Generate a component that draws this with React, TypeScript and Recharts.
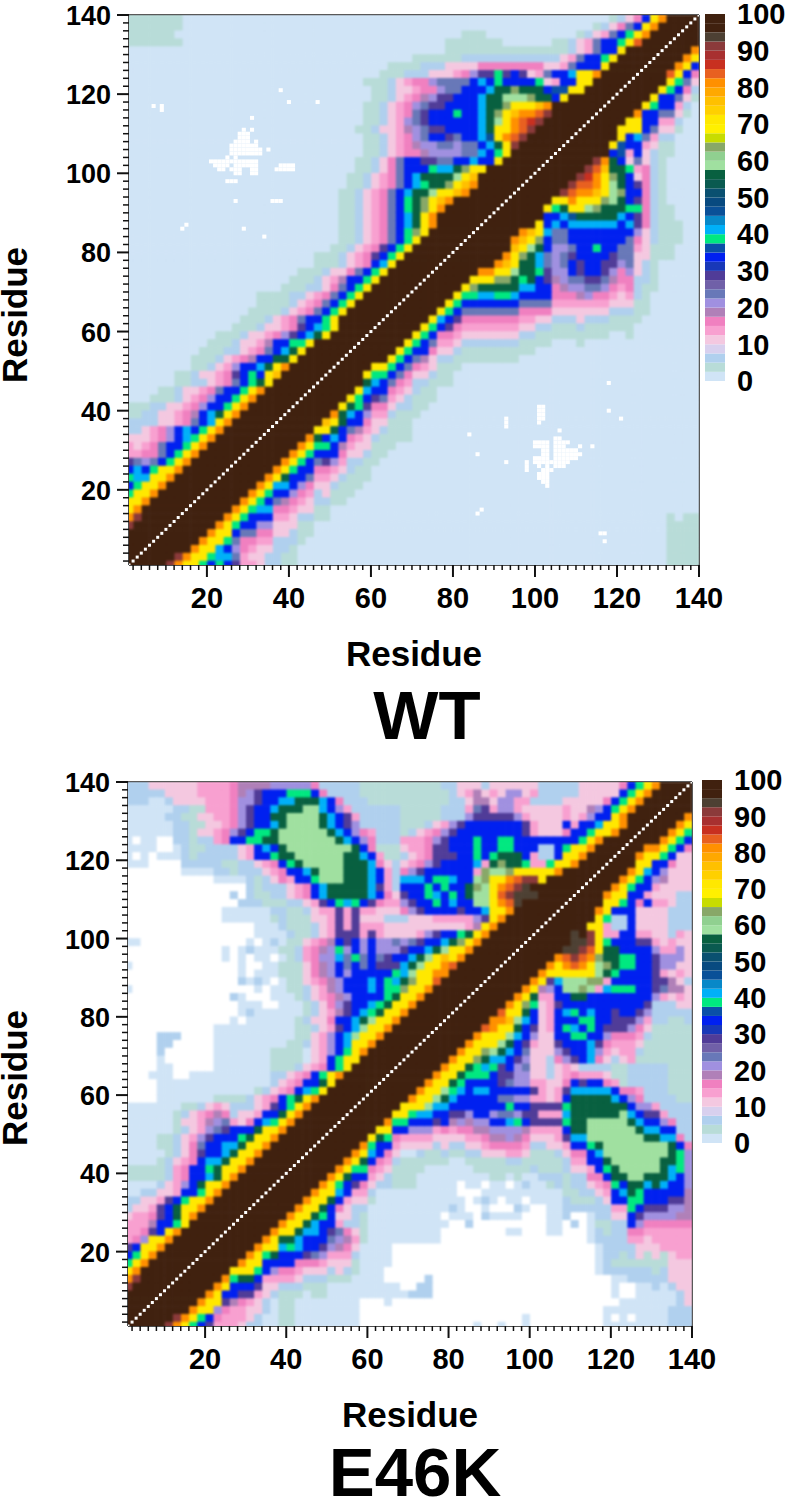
import { Bar, BarChart, Label, ReferenceLine, Scatter, ScatterChart, XAxis, YAxis } from 'recharts'

// colour bar, bottom to top, every band is 2.5 %
const BAR_COLORS = [
  '#d0e4f6', '#b8dcd8', '#b0d0ee', '#d8d0ee', '#f4c8e0', '#f8a0d0', '#f080c0', '#b080b8', '#a090e0', '#6878b8',
  '#7060a8', '#503c98', '#1838b8', '#0020f0', '#0a50a8', '#00e880', '#00b0f8', '#0888c8', '#0a5098', '#084a80',
  '#0a5070', '#0a5a50', '#086040', '#a0e0a0', '#90d090', '#88a868', '#c8dc00', '#fff000', '#ffe800', '#ffd000',
  '#ffc000', '#ffa800', '#ff9000', '#e86020', '#c83020', '#a83030', '#8b3a3a', '#4d4033', '#40210f', '#40210f',
]
const BAR_TICKS = [0, 10, 20, 30, 40, 50, 60, 70, 80, 90, 100]
const AXIS_TICKS = Array.from({ length: 70 }, (_, i) => (i + 1) * 2)
const RESIDUES = Array.from({ length: 140 }, (_, i) => i + 1)

// contact percentage behind each letter used in the rows below
const LEVELS: Record<string, number> = {
  w: -1, a: 1, b: 3, c: 6, d: 11, e: 14, f: 16, g: 19, h: 21, i: 24, j: 29, k: 34, l: 36, m: 39, n: 41, o: 44, p: 46,
  q: 56, r: 59, s: 64, t: 66, u: 71, v: 76, x: 81, y: 84, z: 86, A: 91, B: 94, C: 97,
}

// Contact maps are symmetric, so only one half is listed. One row per odd residue y (139, 137 ... 1),
// runs of "letter + number of 2-residue cells", from the diagonal out to the left. Anything left over is background.
const WT_ROWS = [
  'C4x1u1k1f1d1c1b1a52b7', 'C4x1u1k1i1f1d1c1b1a50b7', 'C4x1u1m1k1i1e1d1c1b1a11b3a35b7', 'C4y1u1m1k2i1e1d1c1b2a6b7a32b7',
  'C5u1k2i1e1d1c1b15', 'C5u1m1k2i1e1d1c12b6', 'C5u1k3i1e1d2f8d4c3b4', 'C5x1u2n1k2i1e1d1j1k1j1m1j2h1f1e1d3c3b3',
  'C5u2k2e1d1m1k4m1k1n1k1i4h1f2e1d1c1b3', 'C5u2l2k1q3s1q2n1k3i2h1f2e1d2c1b2', 'C6u1k1q2s1r3q2n1k3j2h1g1f1e1d1c1b2',
  'C7x1v1u3s1q2n1k4j2i1h1f1e1d1c1b2', 'C6A1y1x2v1u1s1q1n1k2m1k3j1i1f1e1d1c1b2', 'C6A1z1y1x1u1r1q1n1k6j1i1h1e1d1c1b2',
  'C6A1y1x1u2q1n1k4j2i1h1g1e1d2c1b2', 'C6A1y1x1u1p1n1k2i1j1k2i1h1f1e1d1c1b2', 'C6A1u1q1n1k1i2h1i2h2g1f1e1d1c1b2',
  'C6u1m1k1n1i2h4g1f2e1d1c1b2', 'C6u1k2n1k2i2j2k2i1f1d1c1b2', 'C7u2s1q1n2m1k3i1f1d1c1b2',
  'C7v1u1r1q4n1k1i1f1e1d1c1b2', 'C6x1v1u1s1q2m1n1k1i1f1e1d1c1b2', 'C6x1v1u2r1q2n1k1i1f1e1d1c1b2',
  'C7x1v1u1s1q1m1k1i1f1e1d1c1b2', 'C7x1u1s1q1m1k1i1f1e1d1c1b2', 'C7x1u1q1n1k1i1f1e1d1c1b2',
  'C6x1u1q1n1k1i1f1e1d1c1b2', 'C6u1s1m1k1i1f1e1d1c1b2', 'C6u1m1k1i1f1e1d1c1b2', 'C6u1m1k1j1f1e1d1c1b2',
  'C6u1m1k1j1f1e1d1c1b3', 'C6u1n1k1f1e1d1c1b3', 'C6u1m1k1i1f1d2c1b3', 'C6u1m1k2g1e1d1c1b3',
  'C6u1m1k1i1f1d1c2b3', 'C6u1m1k1i1f1e1d1c2b4', 'C6u1m1k1i1f1e1d1c1b4', 'C6u1m1k1i1f1e1d1c1b4',
  'C6u1m1k2i1f1e1d1c1b3', 'C5u1m1n1k1j1f1e1d2c1b3', 'C5u1q1n1k1j1h1f1e1d2c1b3', 'C6u1m2k2g1e1d2c1b3',
  'C6u1q1n1k1i1f1e1d1c2b3', 'C6u1q2k2g1f1e1d1c1b3', 'C6x1u1q1n1k2h1e1d1c1b2', 'C6v1u1k1m1k1j1f1e1d2c1b2',
  'C6u1q1m1k1i1f1e1d1c2b2', 'C6x1u1m1k2i1f1e1d2c1b2', 'C6x1u1m1k2h1f1e1d1c1b3', 'C6x1u1m1k2h1f1e1d2c2b3',
  'C6x1u1q1n1k1g1f1e1d2c2b2', 'C6x1u1n1k1i1f1e1d2c4', 'C6x1u1m1k1n1k1h1f1e1d1c2', 'C6x1u1m1n1k1h1f1e1d3',
  'C6x1u1m1k2i1f1e1d1e1', 'C6x1u1m1k1i1f2e2', 'C6x1u1m1k1i1h1i1j1', 'C6x1u2m1k1n1k1', 'C6x1u2n2m1', 'C6x1u2m1k1',
  'C6x1u2m1', 'C6x1u2', 'C6x1u1', 'C5A1x1', 'C5A1', 'C5', 'C5', 'C5', 'C5', 'C5',
]

const E46K_ROWS = [
  'C4x1u1m1k1f1d5c5d6c1d3c2b10c5f1h5g4f1e4d6c3', 'C4x1u1m1k1d5c5e1d1h2d1e1d1g1e1d1c1b11c4f1k1m3k3j1h1g1f1e4d4c5',
  'C4x1u1m1k1f1d5c4e2h2d1g2d1c2b10c3f1k1n1q3n2k2j1h2f1e3d4c1a2c3',
  'C4x1u1m1k1h1g1d2e1d5e1h2e1j1i1e1c3b5c6e1h1k1n1r2q3n1k2j1h1f1e3b2c2a6',
  'C4x1u1k2h1e1d1e1d4e1h1j5h1c3b5c5e1j1k1n1q1r4q2k2j1h1f1e2d2b2c2a5',
  'C3x1u2n1k2e1k1d3e1j1k7j1h1e1d1c1b3c5h1j1k1n1q1r4q1n1k2j1h1f1e1d2b2c2a6',
  'C3x1u2m1k2f1d3e1j1k8j1h1f1e1d1c1b1c3e1f1h1k1n1q1r6q1m2k1j1h1f1e1d2b1c2a6',
  'C4x1u1m1k8m2k2m1k3j1h1f1e3c3f1h1k1n1q1r7q2m2k2f1e1c2b1c2w2a2w1a1',
  'C4x1u2m1k1c2k3m2k2m1k3j2f1e2d1b3f1k1q1r8q1k1n1k1e1d1c4b2c1a1w2a4',
  'C4x1u2k1c2e1k1q3m1k1m1k2j3f1e1d1c1b2e1k1n1q2r6q2m1k2e1d1c5b1c1a3w1a1w1a1',
  'C4x1u2m1e2m1q2s1q1e1n1k4j1h1f1e1d1c1d1f1n1q3r5q1m1k1f1e1d1c2b2c5w4a3',
  'C5x1u5s1r2s1e1k6j1h1f1c1e1k1n1q3r3q1n1k2f1e1d1c3b1c2a4w7',
  'C6u1A2y1x1u2s1r1k2n1m2k1n3c1e1k1n1q3r3m1k2e1f1d1c1b1c1a4w11',
  'C7B1A1y1x1u1r1s1q1k2m1k1m1k3c1e1j1n1q5n1k1f1e1d1c3b1c1w15',
  'C5B3A1y1u1r2q1k1m1k1n1m1k2j1d1f1k1n1q5n1k1f1e1d1c2b2c1w1c1w13',
  'C6B1y1x1u1r2k2n1k1m1k2j1h1e2f1j1k1m1n1m1k1j1e1d1c2b3c3w14',
  'C6x1u2n1k2j1k4j1h1f1d3e2j1e1j1e2d1c1b2c2a6w12',
  'C6x1u1j1h1e5d3c3d3j1e1j1e1d2b3c1b1a6w12',
  'C6x1u1g1e1d10e3j1e1j1e1d1c1b3c1a3w16',
  'C6x1u1q1m1k2j1h1e1d4e1j1e1j3e1d1c1b2c1a4w16',
  'C6x1u1s1q1n1k2j1i1h1i1h2k1h1k1j1k1g1f1e1d1b2a1c1a1w1a1w13',
  'C6x1u2r1q1n1k2j1h3k1h1k1h1m1h1g1f1e1c1b2a3c1a1w1a1w12',
  'C6x1u1v1u1r1q1n1k2j1i1k1i1m1i1n1h2f1e1c1b1a1w1a2w1a1w1a1w12',
  'C6y1x1u2r1q1n1j3k1i1k1i1k1h1g1f1d1b3a2w2a1w13',
  'C6x2u2r1n1m1k5h1k1h1g1f1d1b3a3w1a1w14',
  'C6y1u2s1q1n1m1k1n1k3h1g1f1e1d1b2a1w1a1c1a1c1w14',
  'C6x1u2s1m2k1n1k3h1g1e1d1c1b2a2w1a1w15',
  'C6x1u2q1m1k4h1g1f1e1d1c1b1a3w3a1c1w13',
  'C6x1u2q1m1n1k2j1h1f1d1c1b1a3w2a3w14',
  'C6x1u2q1m1n1k1j1g1e1d1c1b1a6c1a1w14',
  'C6x1u2r1q1n1k2f1d2c1b1a6w1a1w14',
  'C6x1u2r1n1k1j1e1d1c1b2a10w11',
  'C6x1u2r1n1k1h1e1d1b2a10w4c3w4',
  'C6x1u2n1k1h1e1d1c1b2a9w5c2w4',
  'C6x1u1m1k1h1e1d1a1b4a7w6c1w4',
  'C6u2m1k1e1d1a1b4a7w6a1w4',
  'C6u1m1k1f1e1d1c1b3a7w5a2w4',
  'C6x1u1m1k1f1e1d1c2a10w2a3w3',
  'C6u1q1k2f1e1d1c1a14w4',
  'C6u1m1n1k1f1e1d1c1b1a12w4',
  'C6x1u1q1m1k1f1e1d1c1b4a7w4',
  'C6x1u1m1k1j1e1d1c3d1e1d1c1b2a7',
  'C6x1u1q1k2e1d2c1f1g1f1e1d1c1b1a6',
  'C6x1u1m1n1k1f1d1e1i1h1g1e1d2b1a6',
  'C6x1u2q1k3j1i1h1e1d1c1b1a6',
  'C6x1u2q1m1k3j1h1e1d1c1b2a4',
  'C6x1u2q1n2k2i1f1d1c1b2a4',
  'C6x1u2q1n1k2j1f1d1c1b1a5',
  'C6x1u2q1n2k1f1e1d1c1b1a4',
  'C6x1u2q1m1k2f1e1c1b5',
  'C6x1u1q1n1k2f1e1c1b5',
  'C6x1u2q1k1h1e1d1c1a4',
  'C6x1u1m1k2e1d2c2a2',
  'C6x1u2m1k1j1e1d2c2',
  'C6x1u2q1k1j1e1d2c1',
  'C6x1u1q1k1j1f1e2d1',
  'C6u1m1k2g1e3',
  'C6x1u1k1j1f1e2',
  'C6x1u2h1f1e1',
  'C6x1u2k1j1',
  'C6x1u1m1k1',
  'C6x1u1m1',
  'C6x1u1',
  'C5A1x1',
  'C5A1', 'C5', 'C5', 'C5', 'C5', 'C5',
]

// empty WT cells, one residue wide: [y, first x, last x]
const WT_GAPS = [
  [121, 38, 38], [118, 40, 40], [118, 47, 47], [117, 7, 7], [116, 9, 9], [117, 9, 9], [114, 31, 31], [111, 29, 29], [111, 31, 31],
  [110, 28, 30], [109, 28, 30], [108, 27, 30], [108, 32, 32], [107, 26, 32], [106, 26, 33], [106, 35, 35], [105, 26, 33],
  [104, 25, 25], [104, 27, 27], [103, 21, 32], [102, 22, 25], [102, 27, 32], [102, 38, 41], [101, 23, 24], [101, 26, 28],
  [101, 31, 32], [101, 37, 41], [100, 27, 28], [100, 31, 32], [98, 25, 27], [93, 27, 27], [93, 36, 38], [87, 15, 15],
  [86, 14, 14], [86, 29, 29], [84, 34, 34],
]

const FONT = '"Liberation Sans", Arial, sans-serif'

function colorOf(value: number) {
  if (value < 0) return '#ffffff'
  return BAR_COLORS[Math.min(39, Math.floor(value / 2.5))]
}

function expandRows(rows: string[]) {
  const cells: { x: number; y: number; value: number }[] = []
  rows.forEach((row, i) => {
    const y = 139 - i * 2
    const letters: string[] = []
    for (const m of row.matchAll(/([a-zA-Z])(\d+)/g)) {
      for (let n = 0; n < Number(m[2]); n++) letters.push(m[1])
    }
    for (let x = y, k = 0; x >= 1; x -= 2, k++) {
      const value = LEVELS[letters[k] ?? 'a']
      cells.push({ x, y, value })
      if (x !== y) cells.push({ x: y, y: x, value })
    }
  })
  return cells
}

function expandGaps(gaps: number[][]) {
  const cells: { x: number; y: number }[] = []
  gaps.forEach(([y, a, b]) => {
    for (let x = a; x <= b; x++) {
      cells.push({ x, y })
      cells.push({ x: y, y: x })
    }
  })
  return cells
}

const WT_CELLS = expandRows(WT_ROWS)
const E46K_CELLS = expandRows(E46K_ROWS)
const WT_GAP_CELLS = expandGaps(WT_GAPS)
const DIAGONAL = RESIDUES.map((r) => ({ x: r, y: r }))

const barRow: Record<string, number | string> = { band: 'scale' }
BAR_COLORS.forEach((_, i) => {
  barRow['l' + i] = 2.5
})

function XTick({ x, y, payload }: any) {
  const major = payload.value % 20 === 0
  return (
    <g>
      <line x1={x} y1={y} x2={x} y2={y + (major ? 12 : 5)} stroke="#111" strokeWidth={major ? 2 : 1.5} />
      {major && (
        <text x={x} y={y + 43} textAnchor="middle" fontFamily={FONT} fontWeight="bold" fontSize={29} fill="#000">
          {payload.value}
        </text>
      )}
    </g>
  )
}

function YTick({ x, y, payload }: any) {
  const major = payload.value % 20 === 0
  return (
    <g>
      <line x1={x - (major ? 12 : 6)} y1={y} x2={x} y2={y} stroke="#111" strokeWidth={major ? 2 : 1.5} />
      {major && (
        <text x={x - 18} y={y + 10} textAnchor="end" fontFamily={FONT} fontWeight="bold" fontSize={27} fill="#000">
          {payload.value}
        </text>
      )}
    </g>
  )
}

const DiagonalMark = ({ cx, cy }: any) => <rect x={cx - 1.5} y={cy - 1.5} width={3} height={3} fill="#ffffff" />

interface MapProps {
  cells: { x: number; y: number; value: number }[]
  gaps?: { x: number; y: number }[]
  top: number
  plotLeft: number
  plotRight: number
  plotTop: number
  plotBottom: number
  labelDy: number
}

function ContactMap({ cells, gaps, top, plotLeft, plotRight, plotTop, plotBottom, labelDy }: MapProps) {
  const w = (plotRight - plotLeft) / 139
  const h = (plotBottom - plotTop) / 139
  const CellMark = ({ cx, cy, payload }: any) => (
    <rect x={cx - w - 0.3} y={cy - h - 0.3} width={w * 2 + 0.6} height={h * 2 + 0.6} fill={colorOf(payload.value)} />
  )
  const GapMark = ({ cx, cy }: any) => <rect x={cx - w / 2} y={cy - h / 2} width={w} height={h} fill="#ffffff" />
  return (
    <div style={{ position: 'absolute', left: 0, top }}>
      <ScatterChart
        width={plotRight + 40}
        height={plotBottom + 130}
        margin={{ top: plotTop, right: 40, bottom: 0, left: 0 }}
      >
        <XAxis
          type="number"
          dataKey="x"
          domain={[1, 140]}
          ticks={AXIS_TICKS}
          interval={0}
          height={130}
          allowDataOverflow
          tickLine={false}
          tickSize={0}
          tickMargin={0}
          tick={<XTick />}
          stroke="#111"
          strokeWidth={1.5}
        >
          <Label
            value="Residue"
            position="insideTop"
            offset={76}
            style={{ fontFamily: FONT, fontWeight: 'bold', fontSize: 35, fill: '#000' }}
          />
        </XAxis>
        <YAxis
          type="number"
          dataKey="y"
          domain={[1, 140]}
          ticks={AXIS_TICKS}
          interval={0}
          width={plotLeft}
          allowDataOverflow
          tickLine={false}
          tickSize={0}
          tickMargin={0}
          tick={<YTick />}
          stroke="#111"
          strokeWidth={1.5}
        >
          <Label
            value="Residue"
            angle={-90}
            position="insideLeft"
            offset={15}
            dy={labelDy}
            style={{ fontFamily: FONT, fontWeight: 'bold', fontSize: 35, fill: '#000', textAnchor: 'middle' }}
          />
        </YAxis>
        <Scatter className="map-cells" data={cells} shape={CellMark} isAnimationActive={false} />
        {gaps && <Scatter data={gaps} shape={GapMark} isAnimationActive={false} />}
        <Scatter data={DIAGONAL} shape={DiagonalMark} isAnimationActive={false} />
        <ReferenceLine x={140} stroke="#222" strokeWidth={1.5} />
        <ReferenceLine y={140} stroke="#222" strokeWidth={1.5} />
      </ScatterChart>
    </div>
  )
}

function ColorScale({ left, top, height }: { left: number; top: number; height: number }) {
  return (
    <div style={{ position: 'absolute', left, top: top - 20 }}>
      <BarChart
        width={85}
        height={height + 40}
        data={[barRow]}
        margin={{ top: 20, right: 0, bottom: 20, left: 0 }}
        barCategoryGap={0}
      >
        <XAxis dataKey="band" hide />
        <YAxis
          orientation="right"
          type="number"
          domain={[0, 100]}
          ticks={BAR_TICKS}
          interval={0}
          width={65}
          axisLine={false}
          tickLine={false}
          tickMargin={6}
          tick={{ fontFamily: FONT, fontWeight: 'bold', fontSize: 29, fill: '#000' }}
        />
        {BAR_COLORS.map((c, i) => (
          <Bar key={i} dataKey={'l' + i} stackId="scale" fill={c} isAnimationActive={false} />
        ))}
      </BarChart>
    </div>
  )
}

const titleStyle = {
  position: 'absolute' as const,
  fontFamily: FONT,
  fontWeight: 'bold',
  fontSize: 69,
  lineHeight: '69px',
  color: '#000',
  textAlign: 'center' as const,
}

export default function App() {
  return (
    <div style={{ position: 'absolute', left: 0, top: 0, width: 790, height: 1506, background: '#fff', overflow: 'hidden' }}>
      <style>{'.map-cells { filter: blur(1.2px); }'}</style>
      <ContactMap cells={WT_CELLS} gaps={WT_GAP_CELLS} top={0} plotLeft={129} plotRight={699} plotTop={15} plotBottom={565} labelDy={25} />
      <ColorScale left={705} top={14} height={367} />
      <div style={{ ...titleStyle, left: 327, top: 681, width: 200 }}>WT</div>

      <ContactMap cells={E46K_CELLS} top={770} plotLeft={128} plotRight={692} plotTop={12} plotBottom={556} labelDy={24} />
      <ColorScale left={702} top={780} height={363} />
      <div style={{ ...titleStyle, left: 265, top: 1438, width: 300 }}>E46K</div>
    </div>
  )
}
